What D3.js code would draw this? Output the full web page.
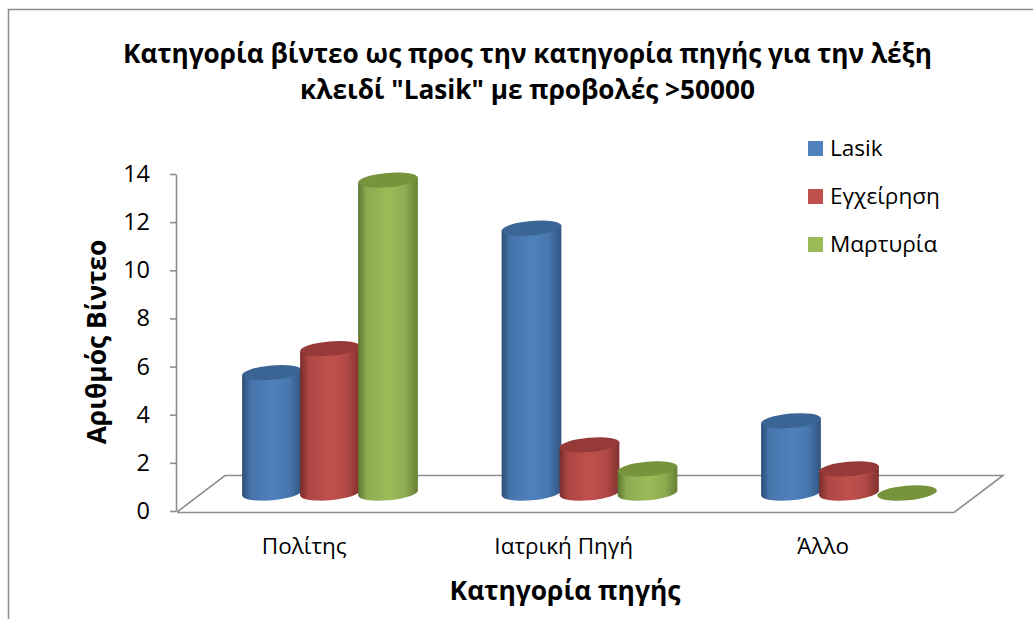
<!DOCTYPE html>
<html><head><meta charset="utf-8">
<script src="https://cdn.jsdelivr.net/npm/d3@7"></script>
<style>html,body{margin:0;padding:0;background:#fff}svg{display:block}text{font-family:"Open Sans","Noto Sans",sans-serif;fill:#000}</style>
</head><body><div id="c"></div>
<script>
const categories = ["Πολίτης", "Ιατρική Πηγή", "Άλλο"];
const seriesNames = ["Lasik", "Εγχείρηση", "Μαρτυρία"];
const lasik = [5, 11, 3];
const surgery = [6, 2, 1];
const testimony = [13, 1, 0];
const yTicks = [0, 2, 4, 6, 8, 10, 12, 14];
const titleLines = ["Κατηγορία βίντεο ως προς την κατηγορία πηγής για την λέξη", "κλειδί \"Lasik\" με προβολές >50000"];
const yTitle = "Αριθμός Βίντεο";
const xTitle = "Κατηγορία πηγής";
const colors = {Lasik:["#4f81bd","#2c4d75","#3b6595"], "Εγχείρηση":["#c0504d","#772c2a","#953a38"], "Μαρτυρία":["#9bbb59","#5f7530","#77933c"]};
const seriesValues = [lasik, surgery, testimony];

const W=1033,H=619;
const svg=d3.select("#c").append("svg").attr("width",W).attr("height",H);
const defs=svg.append("defs");
seriesNames.forEach((s,i)=>{
  const c=colors[s];
  const g=defs.append("linearGradient").attr("id","g"+i);
  [[0,c[1]],[.14,d3.interpolateRgb(c[1],c[0])(.75)],[.5,c[0]],[.78,d3.interpolateRgb(c[0],c[1])(.2)],[1,d3.interpolateRgb(c[0],c[1])(.85)]].forEach(([o,col])=>g.append("stop").attr("offset",o).attr("stop-color",col));
});
// chart frame
svg.append("path").attr("d","M8.5,619V9.5H1033").attr("fill","none").attr("stroke","#8c8c8c").attr("stroke-width",1.5);

const frontL=177, frontR=954, depthX=48;
const x0=d3.scaleBand().domain(categories).range([frontL,955.5]);
const x1=d3.scaleBand().domain(seriesNames).range([0,174]);
const yAxisScale=d3.scaleLinear().domain([0,14]).range([511,174]);
const barShift=-18; // vertical shift of the bar base relative to axis zero (3-D depth)
const y=v=>yAxisScale(v)+barShift;

// floor
const ax="#8e8e8e";
svg.append("path").attr("d",`M${frontL},512L${frontL+depthX},475.5H${frontR+depthX+1}L${frontR},512.5H${frontL}`).attr("fill","none").attr("stroke",ax).attr("stroke-width",1.6);
// axis
const axisG=svg.append("g").attr("transform","translate(176,0)").call(d3.axisLeft(yAxisScale).tickValues(yTicks).tickSize(6).tickPadding(20).tickSizeOuter(0));
axisG.selectAll("path,line").attr("stroke",ax).attr("stroke-width",1.6);
axisG.selectAll("text").style("font-size","23.5px");
axisG.attr("font-family",null);

// cylinders
const rx=30, ry=7.2, rot=-5;
const rad=rot*Math.PI/180;
const ex=rx*Math.cos(rad);
const ey=rx*Math.sin(rad);
seriesNames.forEach((s,i)=>{
  const g=svg.append("g");
  categories.forEach((c,j)=>{
    const cx=x0(c)+x0.bandwidth()/2-63.75+x1(s)+x1.bandwidth()/2;
    const top=y(seriesValues[i][j]), bot=y(0);
    if(bot-top>0.5){
      g.append("path").attr("d",`M${cx-ex},${top-ey}L${cx-ex},${bot-ey}A${rx},${ry} ${rot} 0 0 ${cx+ex},${bot+ey}L${cx+ex},${top+ey}Z`).attr("fill",`url(#g${i})`);
    }
    g.append("ellipse").attr("cx",cx).attr("cy",top).attr("rx",rx).attr("ry",ry).attr("transform",`rotate(${rot} ${cx} ${top})`).attr("fill",colors[s][2]);
  });
});

// category labels
svg.append("g").selectAll("text").data(categories).join("text")
 .attr("x",c=>x0(c)+x0.bandwidth()/2-2.5).attr("y",554).attr("text-anchor","middle").attr("font-size",22.5).text(d=>d);

// titles
svg.append("g").selectAll("text").data(titleLines).join("text")
 .attr("x",527.5).attr("y",(d,i)=>63+i*36).attr("text-anchor","middle").attr("font-size",26.2).attr("font-weight",700).text(d=>d);
svg.append("text").attr("x",565).attr("y",600).attr("text-anchor","middle").attr("font-size",26.4).attr("font-weight",700).text(xTitle);
svg.append("text").attr("transform","translate(106,342) rotate(-90)").attr("text-anchor","middle").attr("font-size",26.4).attr("font-weight",700).text(yTitle);

// legend
const leg=svg.append("g").selectAll("g").data(seriesNames).join("g").attr("transform",(d,i)=>`translate(808,${141+i*48})`);
leg.append("rect").attr("width",15).attr("height",15).attr("fill",d=>colors[d][0]);
leg.append("text").attr("x",22).attr("y",15).attr("font-size",22.6).text(d=>d);
</script></body></html>
